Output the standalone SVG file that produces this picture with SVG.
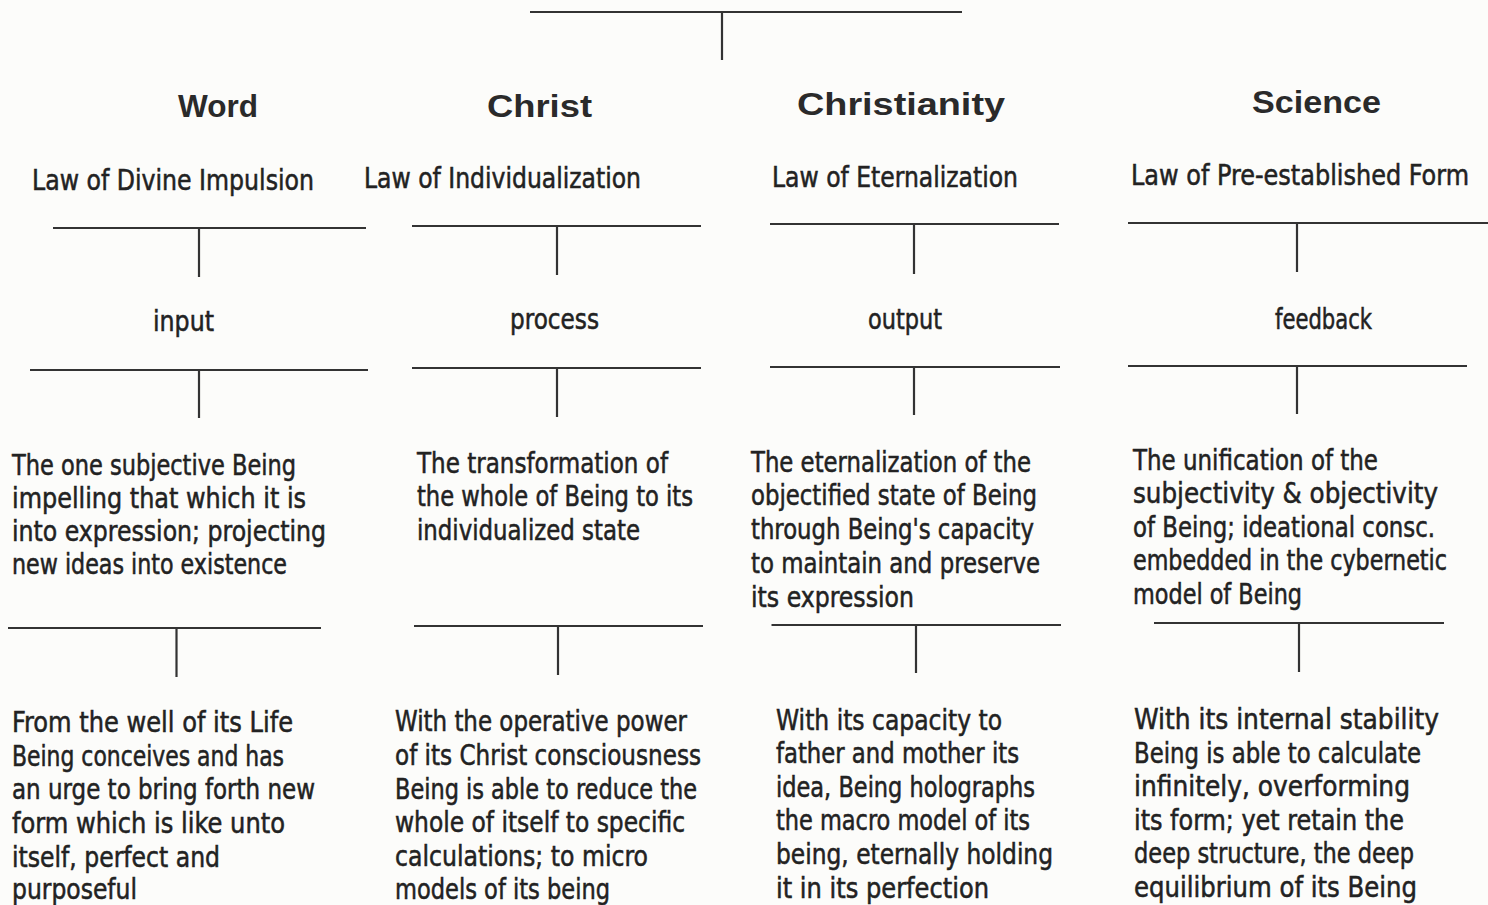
<svg xmlns="http://www.w3.org/2000/svg" width="1488" height="905" viewBox="0 0 1488 905">
<style>
.bg{fill:#fcfcfa}
.t{font-family:"Liberation Sans Narrow","DejaVu Sans Condensed","Liberation Sans",sans-serif;font-size:28px;fill:#222;stroke:#222;stroke-width:0.5}
.h{font-family:"Liberation Sans","DejaVu Sans",sans-serif;font-size:32px;font-weight:bold;fill:#2a2a2a}
.c line{stroke:#333;stroke-width:2.2}
</style>
<rect class="bg" x="0" y="0" width="1488" height="905"/>
<g class="c" id="connectors">
<line x1="530" y1="12" x2="962" y2="12"/><line x1="722" y1="12" x2="722" y2="60"/>
<line x1="53" y1="228" x2="366" y2="228"/><line x1="199" y1="228" x2="199" y2="277"/>
<line x1="412" y1="226" x2="701" y2="226"/><line x1="557" y1="226" x2="557" y2="275"/>
<line x1="770" y1="224" x2="1059" y2="224"/><line x1="914" y1="224" x2="914" y2="274"/>
<line x1="1128" y1="223" x2="1488" y2="223"/><line x1="1297" y1="223" x2="1297" y2="272"/>
<line x1="30" y1="370" x2="368" y2="370"/><line x1="199" y1="370" x2="199" y2="418"/>
<line x1="412" y1="368" x2="701" y2="368"/><line x1="557" y1="368" x2="557" y2="417"/>
<line x1="770" y1="367" x2="1060" y2="367"/><line x1="914" y1="367" x2="914" y2="415"/>
<line x1="1128" y1="366" x2="1467" y2="366"/><line x1="1297" y1="366" x2="1297" y2="414"/>
<line x1="8" y1="628" x2="321" y2="628"/><line x1="176.5" y1="628" x2="176.5" y2="677"/>
<line x1="414" y1="626" x2="703" y2="626"/><line x1="558" y1="626" x2="558" y2="675"/>
<line x1="771.5" y1="625" x2="1061" y2="625"/><line x1="916" y1="625" x2="916" y2="673"/>
<line x1="1154" y1="623" x2="1444" y2="623"/><line x1="1299" y1="623" x2="1299" y2="672"/>
</g>
<g id="word">
<text class="h" x="178" y="117" textLength="80" lengthAdjust="spacingAndGlyphs">Word</text>
<text class="t" x="32" y="190" textLength="282" lengthAdjust="spacingAndGlyphs">Law of Divine Impulsion</text>
<text class="t" x="153" y="331" textLength="61" lengthAdjust="spacingAndGlyphs">input</text>
</g>
<g id="christ">
<text class="h" x="487" y="117" textLength="105" lengthAdjust="spacingAndGlyphs">Christ</text>
<text class="t" x="364" y="188" textLength="277" lengthAdjust="spacingAndGlyphs">Law of Individualization</text>
<text class="t" x="510" y="329" textLength="89" lengthAdjust="spacingAndGlyphs">process</text>
</g>
<g id="christianity">
<text class="h" x="797" y="115" textLength="208" lengthAdjust="spacingAndGlyphs">Christianity</text>
<text class="t" x="772" y="187" textLength="246" lengthAdjust="spacingAndGlyphs">Law of Eternalization</text>
<text class="t" x="868" y="329" textLength="74" lengthAdjust="spacingAndGlyphs">output</text>
</g>
<g id="science">
<text class="h" x="1252" y="113" textLength="129" lengthAdjust="spacingAndGlyphs">Science</text>
<text class="t" x="1131" y="185" textLength="338" lengthAdjust="spacingAndGlyphs">Law of Pre-established Form</text>
<text class="t" x="1275" y="329" textLength="97" lengthAdjust="spacingAndGlyphs">feedback</text>
</g>
<g id="input-desc">
<text class="t" x="12" y="475" textLength="284" lengthAdjust="spacingAndGlyphs">The one subjective Being</text>
<text class="t" x="12" y="508" textLength="294" lengthAdjust="spacingAndGlyphs">impelling that which it is</text>
<text class="t" x="12" y="541" textLength="314" lengthAdjust="spacingAndGlyphs">into expression; projecting</text>
<text class="t" x="12" y="574" textLength="275" lengthAdjust="spacingAndGlyphs">new ideas into existence</text>
</g>
<g id="process-desc">
<text class="t" x="417" y="473" textLength="251" lengthAdjust="spacingAndGlyphs">The transformation of</text>
<text class="t" x="417" y="506" textLength="276" lengthAdjust="spacingAndGlyphs">the whole of Being to its</text>
<text class="t" x="417" y="540" textLength="223" lengthAdjust="spacingAndGlyphs">individualized state</text>
</g>
<g id="output-desc">
<text class="t" x="751" y="472" textLength="280" lengthAdjust="spacingAndGlyphs">The eternalization of the</text>
<text class="t" x="751" y="505" textLength="286" lengthAdjust="spacingAndGlyphs">objectified state of Being</text>
<text class="t" x="751" y="539" textLength="283" lengthAdjust="spacingAndGlyphs">through Being's capacity</text>
<text class="t" x="751" y="573" textLength="289" lengthAdjust="spacingAndGlyphs">to maintain and preserve</text>
<text class="t" x="751" y="607" textLength="163" lengthAdjust="spacingAndGlyphs">its expression</text>
</g>
<g id="feedback-desc">
<text class="t" x="1133" y="470" textLength="245" lengthAdjust="spacingAndGlyphs">The unification of the</text>
<text class="t" x="1133" y="503" textLength="305" lengthAdjust="spacingAndGlyphs">subjectivity &amp; objectivity</text>
<text class="t" x="1133" y="537" textLength="302" lengthAdjust="spacingAndGlyphs">of Being; ideational consc.</text>
<text class="t" x="1133" y="570" textLength="314" lengthAdjust="spacingAndGlyphs">embedded in the cybernetic</text>
<text class="t" x="1133" y="604" textLength="169" lengthAdjust="spacingAndGlyphs">model of Being</text>
</g>
<g id="word-detail">
<text class="t" x="12" y="732" textLength="281" lengthAdjust="spacingAndGlyphs">From the well of its Life</text>
<text class="t" x="12" y="766" textLength="272" lengthAdjust="spacingAndGlyphs">Being conceives and has</text>
<text class="t" x="12" y="799" textLength="303" lengthAdjust="spacingAndGlyphs">an urge to bring forth new</text>
<text class="t" x="12" y="833" textLength="273" lengthAdjust="spacingAndGlyphs">form which is like unto</text>
<text class="t" x="12" y="867" textLength="208" lengthAdjust="spacingAndGlyphs">itself, perfect and</text>
<text class="t" x="12" y="899" textLength="125" lengthAdjust="spacingAndGlyphs">purposeful</text>
</g>
<g id="christ-detail">
<text class="t" x="395" y="731" textLength="292" lengthAdjust="spacingAndGlyphs">With the operative power</text>
<text class="t" x="395" y="765" textLength="306" lengthAdjust="spacingAndGlyphs">of its Christ consciousness</text>
<text class="t" x="395" y="799" textLength="302" lengthAdjust="spacingAndGlyphs">Being is able to reduce the</text>
<text class="t" x="395" y="832" textLength="290" lengthAdjust="spacingAndGlyphs">whole of itself to specific</text>
<text class="t" x="395" y="866" textLength="253" lengthAdjust="spacingAndGlyphs">calculations; to micro</text>
<text class="t" x="395" y="899" textLength="215" lengthAdjust="spacingAndGlyphs">models of its being</text>
</g>
<g id="christianity-detail">
<text class="t" x="776" y="730" textLength="226" lengthAdjust="spacingAndGlyphs">With its capacity to</text>
<text class="t" x="776" y="763" textLength="243" lengthAdjust="spacingAndGlyphs">father and mother its</text>
<text class="t" x="776" y="797" textLength="259" lengthAdjust="spacingAndGlyphs">idea, Being holographs</text>
<text class="t" x="776" y="830" textLength="254" lengthAdjust="spacingAndGlyphs">the macro model of its</text>
<text class="t" x="776" y="864" textLength="277" lengthAdjust="spacingAndGlyphs">being, eternally holding</text>
<text class="t" x="776" y="898" textLength="213" lengthAdjust="spacingAndGlyphs">it in its perfection</text>
</g>
<g id="science-detail">
<text class="t" x="1134" y="729" textLength="305" lengthAdjust="spacingAndGlyphs">With its internal stability</text>
<text class="t" x="1134" y="763" textLength="287" lengthAdjust="spacingAndGlyphs">Being is able to calculate</text>
<text class="t" x="1134" y="796" textLength="276" lengthAdjust="spacingAndGlyphs">infinitely, overforming</text>
<text class="t" x="1134" y="830" textLength="270" lengthAdjust="spacingAndGlyphs">its form; yet retain the</text>
<text class="t" x="1134" y="863" textLength="280" lengthAdjust="spacingAndGlyphs">deep structure, the deep</text>
<text class="t" x="1134" y="897" textLength="283" lengthAdjust="spacingAndGlyphs">equilibrium of its Being</text>
</g>
</svg>
